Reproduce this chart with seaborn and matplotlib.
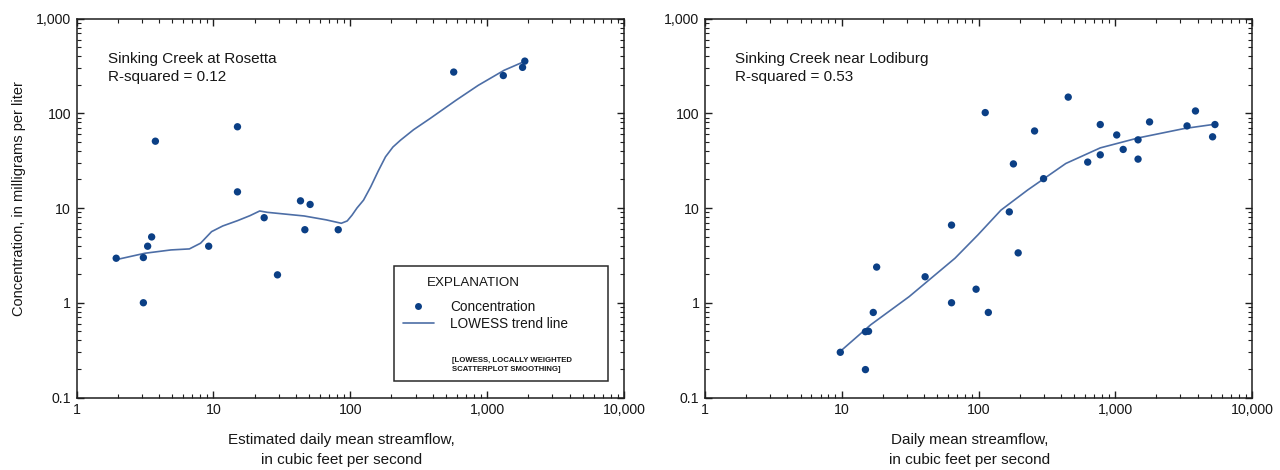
import numpy as np
import pandas as pd
import matplotlib
matplotlib.use("Agg")
import matplotlib.pyplot as plt
from matplotlib.ticker import FixedLocator, FuncFormatter, LogLocator, NullFormatter
from matplotlib.patches import Rectangle
from matplotlib.lines import Line2D
import seaborn as sns

# ---- Data ----
rosetta_flow = [1.95, 3.08, 3.08, 3.31, 3.54, 3.77, 9.24, 15.0, 15.0, 23.5, 29.4,
                43.3, 46.6, 50.9, 81.7, 570, 1313, 1815, 1885]
rosetta_conc = [2.95, 3.0, 1.0, 3.95, 4.95, 50.7, 3.95, 72, 14.8, 7.9, 1.97,
                11.9, 5.9, 10.9, 5.9, 272, 250, 305, 355]
rosetta_trend_flow = [1.95, 3.16, 4.9, 6.68, 8.06, 9.7, 11.7, 15, 18.5, 21.8, 24.8, 46,
                      66.6, 86, 95, 103, 112, 125, 141, 160, 181, 205, 233, 290, 383,
                      592, 861, 1330, 1873]
rosetta_trend_conc = [2.85, 3.33, 3.61, 3.7, 4.25, 5.63, 6.46, 7.35, 8.3, 9.3, 9.0, 8.24,
                      7.5, 6.9, 7.3, 8.4, 10.0, 12.1, 16.7, 24.5, 34.7, 44.0, 52, 67, 88,
                      137, 197, 284, 352]

lodiburg_flow = [9.76, 14.9, 15.7, 14.9, 17.0, 18.0, 40.7, 63.5, 63.5, 96, 118, 168,
                 195, 112, 180, 257, 299, 453, 629, 777, 777, 1025, 1143, 1468,
                 1468, 1782, 3350, 3860, 5360, 5150]
lodiburg_conc = [0.3, 0.495, 0.5, 0.197, 0.79, 2.38, 1.88, 6.6, 1.0, 1.39, 0.79, 9.1,
                 3.36, 101.6, 29.2, 65, 20.4, 148, 30.5, 76, 36.4, 59, 41.5, 52.4,
                 32.8, 81, 73.5, 105.7, 76, 56.4]
lodiburg_trend_flow = [9.76, 16.3, 31.1, 67.3, 99, 146, 229, 435, 777, 1480, 3200, 5360]
lodiburg_trend_conc = [0.307, 0.586, 1.16, 2.95, 5.2, 9.5, 15.5, 29.5, 43.1, 55, 69, 76.6]

panel_titles = ["Sinking Creek at Rosetta", "Sinking Creek near Lodiburg"]
panel_r2 = ["R-squared = 0.12", "R-squared = 0.53"]
x_labels = ["Estimated daily mean streamflow,\nin cubic feet per second",
            "Daily mean streamflow,\nin cubic feet per second"]
y_label = "Concentration, in milligrams per liter"
x_ticks = [1, 10, 100, 1000, 10000]
y_ticks = [0.1, 1, 10, 100, 1000]
legend_title = "EXPLANATION"
legend_labels = ["Concentration", "LOWESS trend line"]
legend_note = "[LOWESS, LOCALLY WEIGHTED\nSCATTERPLOT SMOOTHING]"

# ---- Style ----
sns.set_theme(style="white")
plt.rcParams['font.family'] = ['Liberation Sans', 'DejaVu Sans']
plt.rcParams['axes.edgecolor'] = '#1e1e1e'
plt.rcParams['axes.linewidth'] = 1.1

POINT_COLOR = '#0b3f85'
LINE_COLOR = '#4d6ea6'
TEXT_COLOR = '#161616'

fig = plt.figure(figsize=(12.8, 4.7), dpi=100)
ax1 = fig.add_axes([76.5/1280, 1 - 397.5/470, 547.5/1280, 379/470])
ax2 = fig.add_axes([705/1280, 1 - 397.5/470, 547/1280, 379/470])


def fmt(v, pos):
    if v < 1:
        return f"{v:g}"
    return f"{int(round(v)):,}"


datasets = [
    (ax1, rosetta_flow, rosetta_conc, rosetta_trend_flow, rosetta_trend_conc),
    (ax2, lodiburg_flow, lodiburg_conc, lodiburg_trend_flow, lodiburg_trend_conc),
]

for i, (ax, fx, fy, tx, ty) in enumerate(datasets):
    pts = pd.DataFrame({"flow": fx, "conc": fy})
    trend = pd.DataFrame({"flow": tx, "conc": ty})
    ax.set_xscale('log')
    ax.set_yscale('log')
    sns.lineplot(data=trend, x="flow", y="conc", ax=ax, color=LINE_COLOR, lw=1.2,
                 sort=False, estimator=None, legend=False, zorder=2)
    sns.scatterplot(data=pts, x="flow", y="conc", ax=ax, color=POINT_COLOR, s=28,
                    edgecolor='none', legend=False, zorder=3)
    ax.set_xlim(1, 10000)
    ax.set_ylim(0.1, 1000)
    ax.xaxis.set_major_locator(FixedLocator(x_ticks))
    ax.yaxis.set_major_locator(FixedLocator(y_ticks))
    ax.xaxis.set_major_formatter(FuncFormatter(fmt))
    ax.yaxis.set_major_formatter(FuncFormatter(fmt))
    ax.xaxis.set_minor_locator(LogLocator(base=10, subs=np.arange(2, 10), numticks=20))
    ax.yaxis.set_minor_locator(LogLocator(base=10, subs=np.arange(2, 10), numticks=20))
    ax.xaxis.set_minor_formatter(NullFormatter())
    ax.yaxis.set_minor_formatter(NullFormatter())
    ax.tick_params(which='major', direction='in', length=5, width=1.0,
                   top=True, right=True, bottom=True, left=True,
                   labelsize=10.2, colors='#1e1e1e', labelcolor=TEXT_COLOR, pad=4)
    ax.tick_params(which='minor', direction='in', length=3, width=0.8,
                   top=True, right=True, bottom=True, left=True, colors='#1e1e1e')
    ax.set_xlabel(x_labels[i], fontsize=11, color=TEXT_COLOR, linespacing=1.6)
    ax.xaxis.set_label_coords(0.484, -0.093)
    if i == 0:
        ax.set_ylabel(y_label, fontsize=10.5, color=TEXT_COLOR)
        ax.yaxis.set_label_coords(-0.093, 0.524)
    else:
        ax.set_ylabel("")
    for sp in ax.spines.values():
        sp.set_visible(True)
    ax.text(0.058 if i == 0 else 0.055, 0.912, panel_titles[i] + "\n" + panel_r2[i],
            transform=ax.transAxes, ha='left', va='top', fontsize=11,
            color=TEXT_COLOR, linespacing=1.4)

# ---- Explanation box on the left panel ----
ax1.add_patch(Rectangle((0.58, 0.043), 0.391, 0.304, transform=ax1.transAxes,
                        fill=True, facecolor='white', edgecolor='#2a2a2a', lw=1.1,
                        zorder=4))
ax1.text(0.724, 0.302, legend_title, transform=ax1.transAxes, ha='center',
         va='center', fontsize=9.6, color=TEXT_COLOR, zorder=6)
handles = [Line2D([], [], ls='none', marker='o', markersize=5,
                  markerfacecolor=POINT_COLOR, markeredgecolor='none'),
           Line2D([], [], color=LINE_COLOR, lw=1.2)]
leg = ax1.legend(handles, legend_labels, frameon=False,
                 loc='center left', bbox_to_anchor=(0.596, 0.2165), fontsize=9.8,
                 handlelength=2.3, handletextpad=1.2,
                 labelspacing=0.22, borderaxespad=0.0, borderpad=0.0)
leg.set_zorder(5)
for t in leg.get_texts():
    t.set_color(TEXT_COLOR)
ax1.text(0.686, 0.108, legend_note, transform=ax1.transAxes, ha='left', va='top',
         fontsize=5.6, fontweight='bold', color=TEXT_COLOR, linespacing=1.45, zorder=6)

fig.savefig("out.png", dpi=100)
